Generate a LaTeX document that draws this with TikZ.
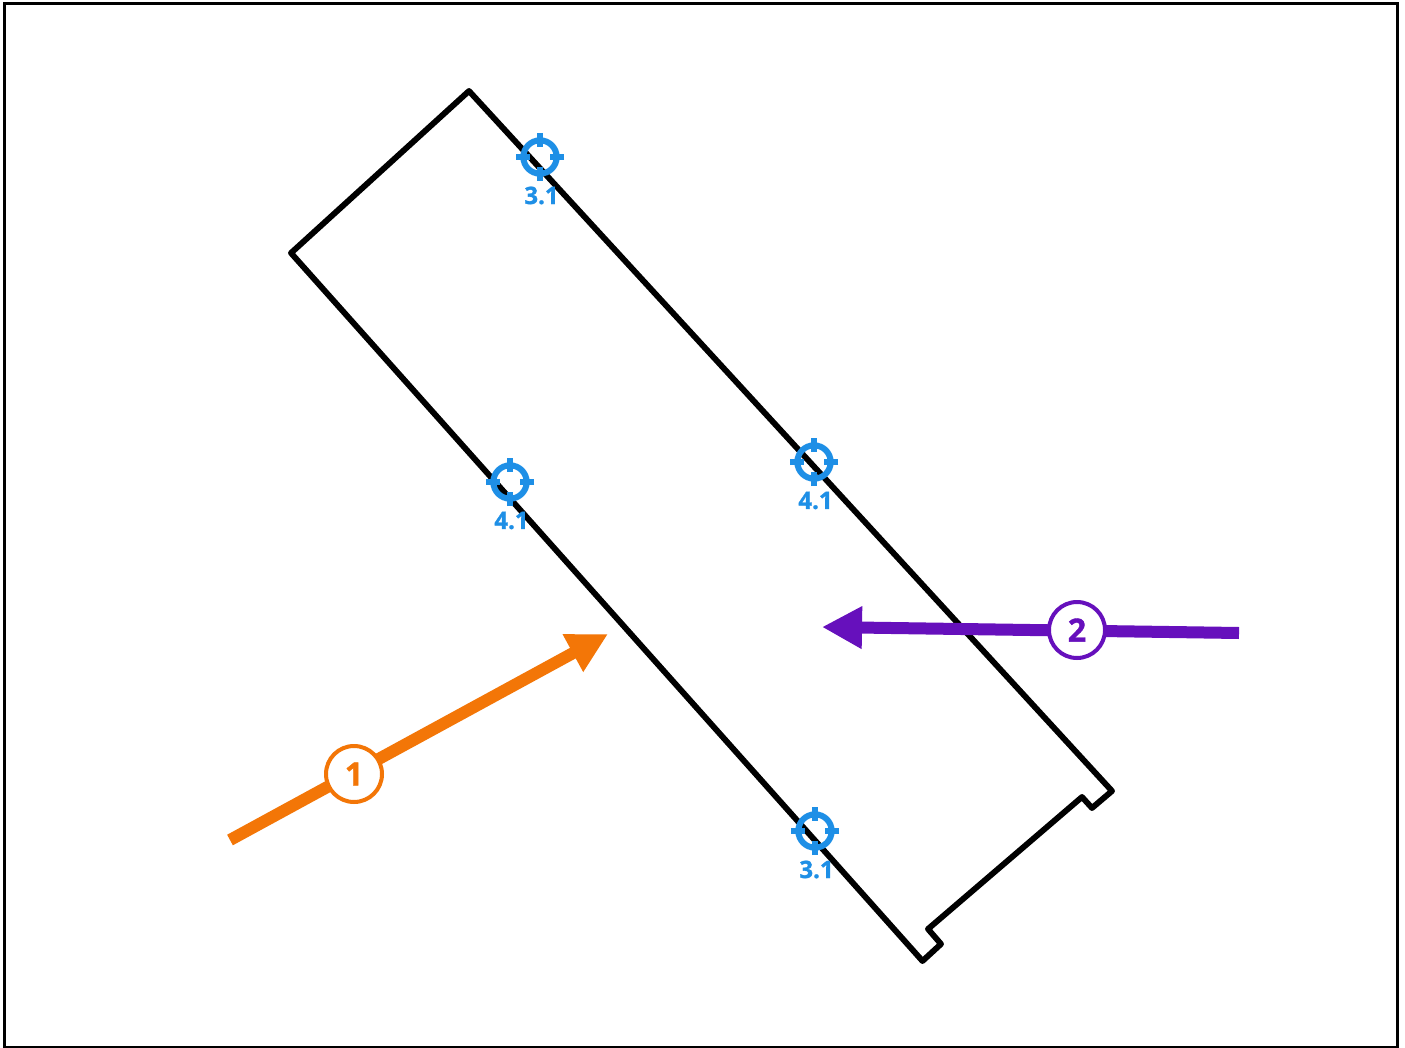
\documentclass[tikz,border=0pt]{standalone}
\usepackage{fontspec}
\setmainfont{Open Sans}
\newfontfamily\heavyfont{Open Sans}[BoldFont={Open Sans Bold},BoldFeatures={FakeBold=1.2}]
\usetikzlibrary{arrows.meta,calc}
\definecolor{tblue}{HTML}{1E8FE6}
\definecolor{torange}{HTML}{F37607}
\definecolor{tpurple}{HTML}{6610BC}
\tikzset{
  x=0.75pt,y=-0.75pt,
  framebox/.style={draw=black,line width=2.25pt,fill=white},
  plan/.style={draw=black,line width=4.4pt,line join=round},
  flow/.style={line width=9pt,-{Triangle[length=30pt,width=30pt]}},
  badge/.style={circle,draw=#1,text=#1,fill=white,line width=3pt,minimum size=42pt,inner sep=0pt,font=\fontsize{24}{24}\selectfont\heavyfont\bfseries},
  target/.style={circle,draw=tblue,line width=4.5pt,minimum size=25pt,inner sep=0pt},
  tick/.style={draw=tblue,line width=4pt},
  tlabel/.style={text=tblue,inner sep=0pt,font=\fontsize{18}{18}\selectfont\heavyfont\bfseries},
}
\newcommand{\crosshair}[4]{%
  \node[target] (#1) at (#2,#3) {};
  \foreach \dx/\dy/\ex/\ey in {-24/0/-10/0, 24/0/10/0, 0/-24/0/-10, 0/24/0/10}{
    \draw[tick] ($(#1)+(\dx,\dy)$) -- ($(#1)+(\ex,\ey)$);
  }
  \node[tlabel] (#1l) at (#2+1.5,#3+38.5) {#4};
}
\begin{document}
\begin{tikzpicture}
\useasboundingbox (0,0) rectangle (1405,1048);
\path[framebox] (4.5,4) rectangle (1397.5,1047);
\draw[plan] (469,91) -- (291,253) -- (922.5,961) -- (941,944) -- (928,929) -- (1082,797) -- (1092,808) -- (1112,791) -- cycle;
\crosshair{ta}{540}{157}{3.1}
\crosshair{tb}{814}{462}{4.1}
\crosshair{tc}{510}{482}{4.1}
\crosshair{td}{815}{831}{3.1}
\coordinate (os) at (230,840);
\coordinate (oe) at (608,634);
\coordinate (ps) at (1239,633);
\coordinate (pe) at (822,627);
\draw[flow,draw=torange,fill=torange] (os) -- (oe);
\draw[flow,draw=tpurple,fill=tpurple] (ps) -- (pe);
\node[badge=torange] (n1) at (354,774) {1};
\node[badge=tpurple] (n2) at (1077,630) {2};
\end{tikzpicture}
\end{document}
